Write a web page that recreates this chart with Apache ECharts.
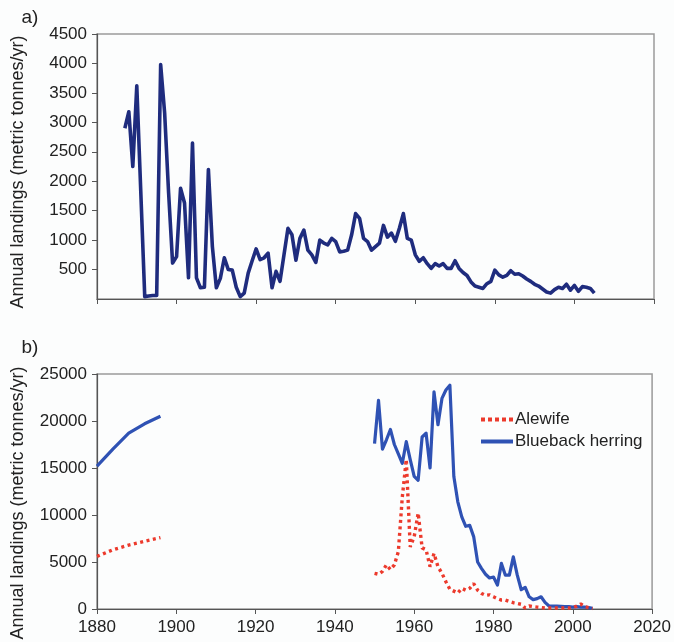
<!DOCTYPE html>
<html>
<head>
<meta charset="utf-8">
<script src="https://cdn.jsdelivr.net/npm/echarts@6/dist/echarts.min.js"></script>
<style>
html,body{margin:0;padding:0;background:#fcfdfd;}
#chart{width:674px;height:642px;}
</style>
</head>
<body>
<div id="chart"></div>
<script>
// ---- Data ----
var xTicks = [1880, 1900, 1920, 1940, 1960, 1980, 2000, 2020];

// Panel a) annual landings
var topYears = [1887,1888,1889,1890,1892,1893,1894,1895,1896,1897,1898,1899,1900,
  1901,1902,1903,1904,1905,1906,1907,1908,1909,1910,1911,1912,1913,1914,1915,1916,1917,1918,1919,1920,
  1921,1922,1923,1924,1925,1926,1927,1928,1929,1930,1931,1932,1933,1934,1935,1936,1937,1938,1939,1940,
  1941,1942,1943,1944,1945,1946,1947,1948,1949,1950,1951,1952,1953,1954,1955,1956,1957,1958,1959,1960,
  1961,1962,1963,1964,1965,1966,1967,1968,1969,1970,1971,1972,1973,1974,1975,1976,1977,1978,1979,1980,
  1981,1982,1983,1984,1985,1986,1987,1988,1989,1990,1991,1992,1993,1994,1995,1996,1997,1998,1999,2000,
  2001,2002,2003,2004,2005];
var topValues = [2900,3180,2250,3620,40,50,60,60,3980,3160,1800,610,720,
  1880,1630,360,2650,360,190,200,2200,890,190,350,700,500,490,200,40,100,440,650,850,
  670,700,780,190,470,300,750,1200,1090,660,1030,1170,830,750,620,1000,950,920,1030,975,
  800,810,830,1090,1450,1370,1030,975,830,890,950,1250,1050,1120,980,1200,1450,1030,1000,750,
  640,700,600,520,600,560,600,520,520,650,520,450,400,290,220,200,180,260,300,490,
  410,370,400,480,420,430,390,340,300,250,220,170,120,100,160,200,180,250,150,230,
  130,210,200,180,100];

// Panel b) Blueback herring
var blueEarlyYears = [1880,1884,1888,1892,1896];
var blueEarlyValues = [15200,17000,18700,19700,20500];
var blueLateYears = [1950,1951,1952,1953,1954,1955,1956,1957,1958,1959,1960,1961,1962,1963,1964,1965,
  1966,1967,1968,1969,1970,1971,1972,1973,1974,1975,1976,1977,1978,1979,1980,1981,1982,1983,1984,1985,
  1986,1987,1988,1989,1990,1991,1992,1993,1994,1995,1996,1997,1998,1999,2000,2001,2002,2003,2004,2005];
var blueLateValues = [17600,22200,17000,18000,19100,17500,16500,15500,17800,15900,14100,13700,18300,18700,15000,23100,
  19600,22400,23300,23800,14100,11400,9800,8800,8900,7700,5000,4300,3700,3300,3400,2550,4850,3600,3600,5550,
  3600,2050,2300,1300,1000,1100,1300,700,320,300,300,280,250,250,200,250,200,200,150,80];

// Panel b) Alewife
var redEarlyYears = [1880,1884,1888,1892,1896];
var redEarlyValues = [5600,6300,6800,7200,7600];
var redLateYears = [1950,1951,1952,1953,1954,1955,1956,1957,1958,1959,1960,1961,1962,1963,1964,1965,
  1966,1967,1968,1969,1970,1971,1972,1973,1974,1975,1976,1977,1978,1979,1980,1981,1982,1983,1984,1985,
  1986,1987,1988,1989,1990,1991,1992,1993,1994,1995,1996,1997,1998,1999,2000,2001,2002,2003,2004,2005];
var redLateValues = [3800,3700,4000,4700,4200,4700,6100,11900,15900,6600,7700,10200,6500,6300,4500,5900,
  4500,3800,2900,2100,1900,1700,2200,2000,2200,2700,2000,1650,1450,1500,1300,1100,950,950,800,670,
  600,500,100,320,250,200,150,100,100,100,100,100,100,100,150,300,530,250,150,50];

function pairs(xs, ys){ return xs.map(function(x,i){ return [x, ys[i]]; }); }
function withGap(ex, ey, lx, ly){
  return pairs(ex, ey).concat([[1920, '-']]).concat(pairs(lx, ly));
}

var FONT = '"Liberation Sans", Arial, sans-serif';
var axisCol = '#555555';
var labelStyle = {color:'#222', fontSize:17, fontFamily:FONT};
function plain(v){ return String(v); }

var chart = echarts.init(document.getElementById('chart'), null, {renderer:'canvas'});
chart.setOption({
  backgroundColor:'#fcfdfd',
  animation:false,
  grid:[
    {left:97, top:34, right:20, height:265, show:true, borderColor:'#9a9a9a', borderWidth:1.5, backgroundColor:'transparent'},
    {left:97, top:374, right:18, height:235, show:true, borderColor:'#9a9a9a', borderWidth:1.5, backgroundColor:'transparent'}
  ],
  xAxis:[
    {type:'value', gridIndex:0, min:xTicks[0], max:xTicks[xTicks.length-1], interval:20,
     axisLine:{show:true, lineStyle:{color:axisCol, width:1.2}},
     axisTick:{show:true, length:5, lineStyle:{color:axisCol}},
     axisLabel:{show:false}, splitLine:{show:false}},
    {type:'value', gridIndex:1, min:xTicks[0], max:xTicks[xTicks.length-1], interval:20,
     axisLine:{show:true, lineStyle:{color:axisCol, width:1.2}},
     axisTick:{show:true, length:5, lineStyle:{color:axisCol}},
     axisLabel:Object.assign({margin:10, formatter:plain}, labelStyle), splitLine:{show:false}}
  ],
  yAxis:[
    {type:'value', gridIndex:0, min:0, max:4500, interval:500,
     axisLine:{show:true, lineStyle:{color:axisCol, width:1.2}},
     axisTick:{show:true, length:5, lineStyle:{color:axisCol}},
     axisLabel:Object.assign({margin:10, showMinLabel:false,
       formatter:function(v){ return v === 0 ? '' : String(v); }}, labelStyle),
     splitLine:{show:false}},
    {type:'value', gridIndex:1, min:0, max:25000, interval:5000,
     axisLine:{show:true, lineStyle:{color:axisCol, width:1.2}},
     axisTick:{show:true, length:5, lineStyle:{color:axisCol}},
     axisLabel:Object.assign({margin:10, formatter:plain}, labelStyle),
     splitLine:{show:false}}
  ],
  legend:{
    data:[
      {name:'Alewife', icon:'path://M0,0h4v4h-4zM7,0h4v4h-4zM14,0h4v4h-4zM21,0h4v4h-4zM28,0h4v4h-4z'},
      {name:'Blueback herring', icon:'path://M0,0h32v4h-32z'}
    ],
    orient:'vertical', left:476, top:406,
    itemWidth:32, itemHeight:4, itemGap:5,
    textStyle:{color:'#222', fontSize:17, fontFamily:FONT, padding:[0,0,0,-3]},
    selectedMode:false
  },
  graphic:[
    {type:'text', x:30, y:18, style:{text:'a)', fontSize:19, fontFamily:FONT, fill:'#222', textAlign:'center', textVerticalAlign:'middle'}},
    {type:'text', x:30, y:348, style:{text:'b)', fontSize:19, fontFamily:FONT, fill:'#222', textAlign:'center', textVerticalAlign:'middle'}},
    {type:'text', x:18, y:172, rotation:Math.PI/2, style:{text:'Annual landings (metric tonnes/yr)', fontSize:18, fontFamily:FONT, fill:'#222', textAlign:'center', textVerticalAlign:'middle'}},
    {type:'text', x:18, y:503, rotation:Math.PI/2, style:{text:'Annual landings (metric tonnes/yr)', fontSize:18, fontFamily:FONT, fill:'#222', textAlign:'center', textVerticalAlign:'middle'}}
  ],
  series:[
    {name:'Total', type:'line', xAxisIndex:0, yAxisIndex:0, data:pairs(topYears, topValues),
     symbol:'none', lineStyle:{color:'#1f2c7e', width:3.6, join:'round'}, itemStyle:{color:'#1f2c7e'}},
    {name:'Blueback herring', type:'line', xAxisIndex:1, yAxisIndex:1,
     data:withGap(blueEarlyYears, blueEarlyValues, blueLateYears, blueLateValues),
     symbol:'none', connectNulls:false, lineStyle:{color:'#2f52b4', width:3.2, join:'round'}, itemStyle:{color:'#2f52b4'}},
    {name:'Alewife', type:'line', xAxisIndex:1, yAxisIndex:1,
     data:withGap(redEarlyYears, redEarlyValues, redLateYears, redLateValues),
     symbol:'none', connectNulls:false, lineStyle:{color:'#ec3a2c', width:3.4, type:[3,3.5]}, itemStyle:{color:'#ec3a2c'}}
  ]
});
</script>
</body>
</html>
